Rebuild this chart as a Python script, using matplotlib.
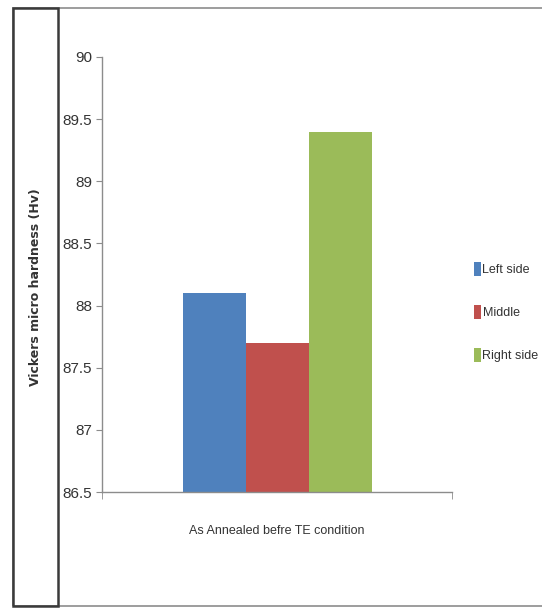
import matplotlib
matplotlib.use('Agg')
import matplotlib.pyplot as plt
from matplotlib.patches import Rectangle

categories = ['As Annealed befre TE condition']
series_names = ['Left side', 'Middle', 'Right side']
left_side = [88.1]
middle = [87.7]
right_side = [89.4]
ytick_values = [86.5, 87, 87.5, 88, 88.5, 89, 89.5, 90]
ytick_labels = ['86.5', '87', '87.5', '88', '88.5', '89', '89.5', '90']
colors = ['#4F81BD', '#C0504D', '#9BBB59']

FONT = ['Liberation Sans', 'DejaVu Sans']

W, H = 542, 610
fig = plt.figure(figsize=(W / 100, H / 100), dpi=100)
fig.patch.set_facecolor('white')

# outer frames
fig.add_artist(Rectangle((13 / W, 1 - 606 / H), 560 / W, 598 / H, transform=fig.transFigure,
                         fill=False, edgecolor='#8c8c8c', lw=1.2))
fig.add_artist(Rectangle((13 / W, 1 - 606 / H), 45 / W, 598 / H, transform=fig.transFigure,
                         fill=False, edgecolor='#3a3a3a', lw=1.8))

ax = fig.add_axes([102 / W, 1 - 492 / H, 350 / W, 435 / H])
x = list(range(len(categories)))
width = 0.18
for i, (name, vals) in enumerate(zip(series_names, [left_side, middle, right_side])):
    ax.bar([xi + (i - 1) * width for xi in x], vals, width=width, color=colors[i],
           label=name, zorder=2)

ax.set_xlim(-0.5, 0.5)
ax.set_ylim(86.5, 90)
ax.set_yticks(ytick_values)
ax.set_yticklabels(ytick_labels, family=FONT, fontsize=11, color='#333333')
ax.set_xticks(x)
ax.set_xticklabels(categories, family=FONT, fontsize=9, color='#333333')
ax.set_xticks([-0.5, 0.5], minor=True)
ax.tick_params(axis='x', which='major', length=0, pad=24)
ax.tick_params(axis='x', which='minor', length=5, color='#8c8c8c', direction='out')
ax.tick_params(axis='y', length=4, color='#8c8c8c', direction='out', pad=3)
for s in ['top', 'right']:
    ax.spines[s].set_visible(False)
for s in ['left', 'bottom']:
    ax.spines[s].set_color('#8c8c8c')
    ax.spines[s].set_linewidth(1.0)

fig.text(36 / W, 1 - 287 / H, 'Vickers micro hardness (Hv)', rotation=90, ha='center', va='center',
         fontsize=9, fontweight='bold', color='#333333', family=['DejaVu Sans'])

handles, labels = ax.get_legend_handles_labels()
leg = fig.legend(handles, labels, loc='center left', bbox_to_anchor=(465 / W, 1 - 312 / H),
                 frameon=False, handlelength=0.6, handleheight=1.4, handletextpad=0.1,
                 labelspacing=2.3, borderpad=0.2, prop={'family': FONT, 'size': 9})
for t in leg.get_texts():
    t.set_color('#333333')

fig.savefig('out.png', dpi=100, facecolor='white')
